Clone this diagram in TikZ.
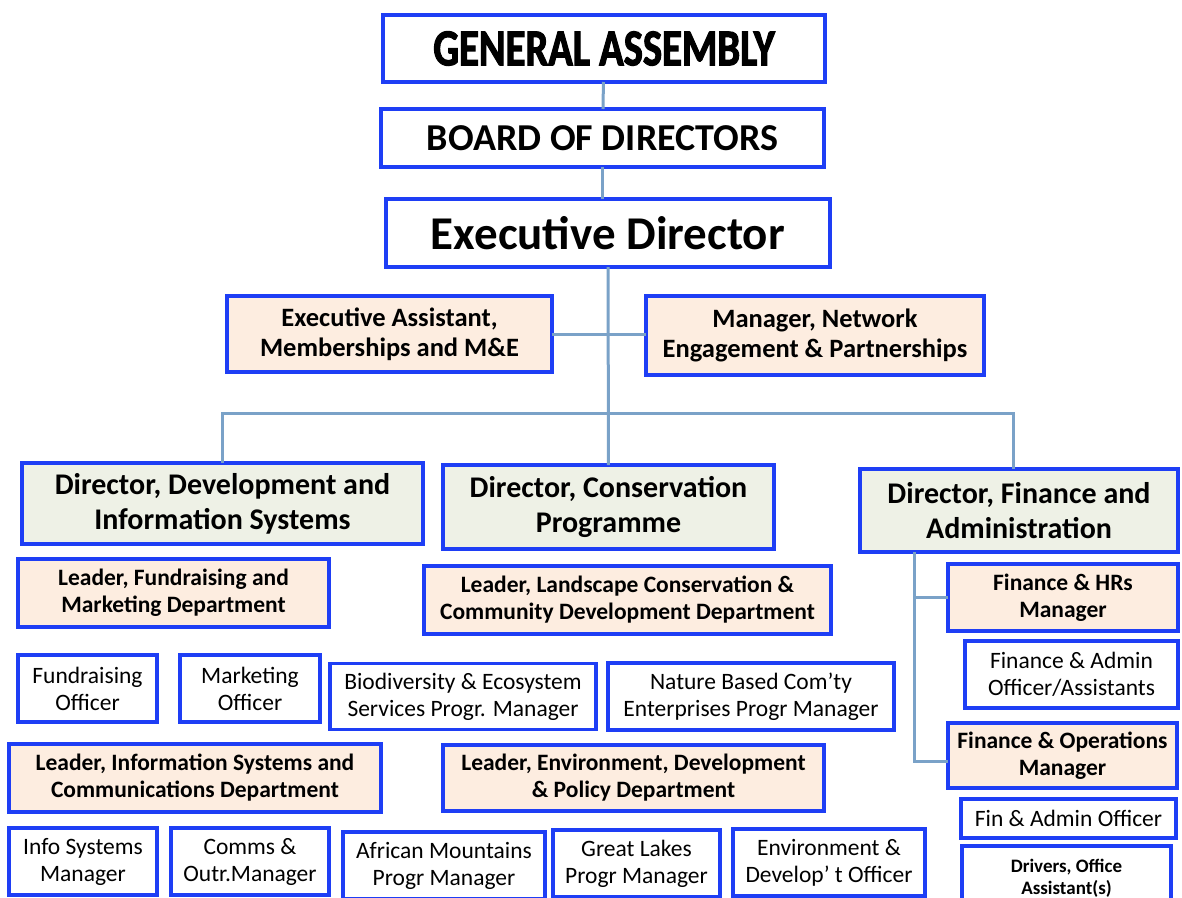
\documentclass[tikz,border=0pt]{standalone}
\usepackage{fontspec}
\setmainfont{Carlito}
\newfontfamily\gafont[FakeStretch=0.78,FakeBold=2]{Carlito}
\usepackage{tikz}
\usetikzlibrary{positioning}
\definecolor{boxblue}{RGB}{30,62,245}
\definecolor{peach}{RGB}{253,237,224}
\definecolor{sage}{RGB}{238,241,230}
\definecolor{linkblue}{RGB}{122,162,200}
\newcommand{\fs}[2]{\fontsize{#1}{#2}\selectfont}

\begin{document}
\begin{tikzpicture}[x=1pt, y=-1pt,
			box/.style={draw=boxblue, line width=3.2pt, inner sep=0pt, outer sep=0pt, align=center},
			sz/.style 2 args={minimum width=#1pt, minimum height=#2pt},
			top/.style={box, fill=white},
			dir/.style={box, fill=sage, font=\bfseries\fs{30}{35}},
			lead/.style={box, fill=peach, font=\bfseries\fs{23.5}{27}},
			staff/.style={box, fill=white, font=\fs{23.5}{27}},
			link/.style={draw=linkblue, line width=3pt}
		]
		\useasboundingbox (0,0) rectangle (1182,897);
		\clip (0,0) rectangle (1182,897);

		\node[top, sz={442}{67}, font=\gafont\bfseries\fs{52}{52}] (ga) at (604,48.5) {GENERAL ASSEMBLY};
		\node[top, sz={443}{58}, font=\bfseries\fs{38}{38}] (bod) [below=27pt of ga, xshift=-1.5pt] {BOARD OF DIRECTORS};
		\node[top, sz={444}{68}, font=\bfseries\fs{47}{47}] (ed) [below=32pt of bod, xshift=5.5pt] {Executive Director};

		\node[lead, sz={325}{76}, font=\bfseries\fs{26.5}{30}] (ea) [below=29pt of ed, xshift=-218.5pt] {Executive Assistant,\\Memberships and M\&E};
		\node[lead, sz={338}{79}, font=\bfseries\fs{26.5}{30}] (mn) [below=29pt of ed, xshift=207pt] {Manager, Network\\Engagement \& Partnerships};

		\node[dir, sz={401}{81}] (dd) [below=196pt of ed, xshift=-385.5pt] {Director, Development and\\Information Systems};
		\node[dir, sz={331}{84}] (dc) [below=198pt of ed, xshift=0.5pt] {Director, Conservation\\Programme};
		\node[dir, sz={318}{83}] (df) [below=202pt of ed, xshift=411pt] {Director, Finance and\\Administration};

		% development side
		\node[lead, sz={311}{68}] (lf) [below=15pt of dd, xshift=-49pt] {Leader, Fundraising and\\Marketing Department};
		\node[staff, sz={139}{67}] (fo) [below=28pt of lf, xshift=-86pt] {Fundraising\\Officer};
		\node[staff, sz={140}{67}] (mo) [right=23pt of fo] {Marketing\\Officer};
		\node[lead, sz={372}{68}] (li) [below=22pt of fo, xshift=107.5pt] {Leader, Information Systems and\\Communications Department};
		\node[staff, sz={148}{67}] (is) [below=16pt of li, xshift=-112pt] {Info Systems\\Manager};
		\node[staff, sz={158}{67}] (cm) [right=14pt of is] {Comms \&\\Outr.Manager};

		% conservation side
		\node[lead, sz={407}{68}] (ll) [below=17pt of dc, xshift=19pt] {Leader, Landscape Conservation \&\\Community Development Department};
		\node[staff, sz={266}{66}] (bm) [right=10pt of mo, yshift=-8pt] {Biodiversity \& Ecosystem\\Services Progr. Manager};
		\node[staff, sz={286}{67}] (nb) [right=12pt of bm] {Nature Based Com’ty\\Enterprises Progr Manager};
		\node[lead, sz={381}{66}] (le) [right=62pt of li] {Leader, Environment, Development\\\& Policy Department};
		\node[staff, sz={202}{67}] (am) [right=14pt of cm, yshift=-4pt] {African Mountains\\Progr Manager};
		\node[staff, sz={167}{67}] (gl) [right=8pt of am, yshift=2pt] {Great Lakes\\Progr Manager};
		\node[staff, sz={192}{67}] (en) [right=13pt of gl, yshift=1pt] {Environment \&\\Develop’ t Officer};

		% finance side
		\node[lead, sz={230}{67}] (fh) [below=12pt of df, xshift=44pt] {Finance \& HRs\\Manager};
		\node[staff, sz={213}{67}] (fa) [below=10pt of fh, xshift=8.5pt] {Finance \& Admin\\Officer/Assistants};
		\node[lead, sz={229}{65}] (fp) [below=15pt of fa, xshift=-9pt] {Finance \& Operations\\Manager};
		\node[staff, sz={215}{39}] (fi) [below=11pt of fp, xshift=6pt] {Fin \& Admin Officer};
		\node[staff, sz={209}{64}, font=\bfseries\fs{19}{22}] (dr) [below=8pt of fi, xshift=-2pt] {Drivers, Office\\Assistant(s)};

		\coordinate[below=146pt of ed.south] (bus);
		\coordinate (dfb) at ([xshift=-105pt]df.south);

		\draw[link] (ga) -- (bod);
		\draw[link] (bod.south) -- (bod.south |- ed.north);
		\draw[link] (ed) -- (dc);
		\draw[link] (ea.east) -- (ea.east -| mn.west);
		\draw[link] (dd.north) |- (bus) -| ([xshift=-6pt]df.north);
		\draw[link] (dfb) |- ([yshift=-6pt]fp.west);
		\draw[link] (dfb |- fh.west) -- (fh.west);

		\end{tikzpicture}
\end{document}
